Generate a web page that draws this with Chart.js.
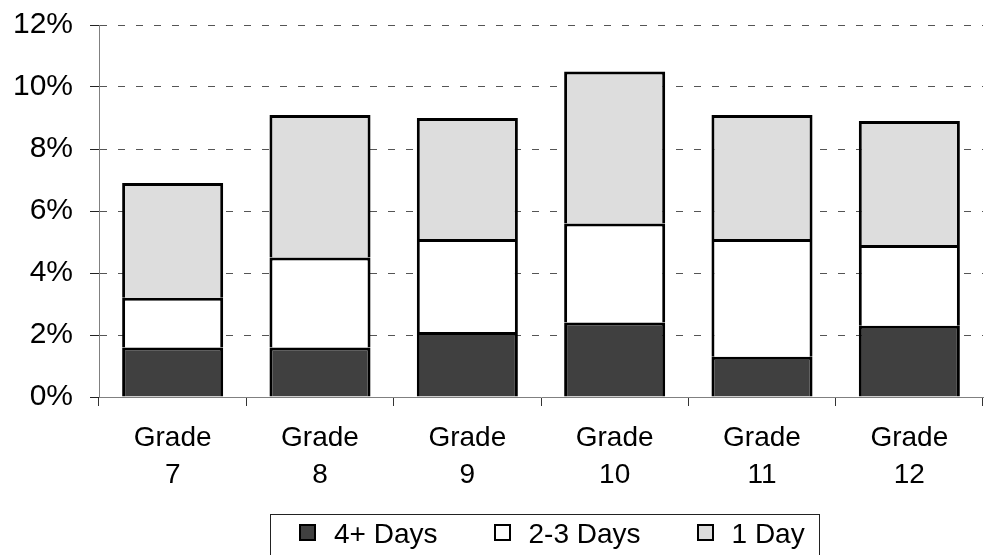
<!DOCTYPE html>
<html>
<head>
<meta charset="utf-8">
<script src="https://cdn.jsdelivr.net/npm/chart.js@4/dist/chart.umd.min.js"></script>
<style>
  html, body { margin: 0; padding: 0; background: #fff; overflow: hidden; }
  #wrap { position: relative; width: 984px; height: 555px; }
  #myChart { position: absolute; left: 0; top: 0; }
  #legend {
    position: absolute; left: 270px; top: 514px; width: 550px; height: 60px;
    border: 1px solid #222; box-sizing: border-box;
    font-family: "Liberation Sans", Arial, sans-serif; font-size: 28px; line-height: 28px;
    color: #000; padding: 5px 0 0 28px; display: flex; white-space: nowrap;
  }
  .item { display: flex; align-items: flex-start; margin-right: 56px; }
  .box { width: 13px; height: 13px; border: 2px solid #000; margin: 4px 18px 0 0; }
</style>
</head>
<body>
<div id="wrap">
  <canvas id="myChart" width="984" height="555"></canvas>
  <div id="legend"></div>
</div>
<script>
// values in percent
let grades = [["Grade", "7"], ["Grade", "8"], ["Grade", "9"], ["Grade", "10"], ["Grade", "11"], ["Grade", "12"]];
let fourPlus = [1.6, 1.6, 2.1, 2.4, 1.3, 2.3];
let twoThree = [1.6, 2.9, 3.0, 3.2, 3.8, 2.6];
let oneDay = [3.7, 4.6, 3.9, 4.9, 4.0, 4.0];
let seriesNames = ["4+ Days", "2-3 Days", "1 Day"];
let seriesColors = ["#404040", "#ffffff", "#dddddd"];
let yTicks = [0, 2, 4, 6, 8, 10, 12];

const font = "'Liberation Sans', Arial, sans-serif";

function makeSet(i, values) {
  return {
    label: seriesNames[i],
    data: values,
    backgroundColor: seriesColors[i],
    borderColor: "#000",
    borderWidth: { top: 3, left: 3, right: 3, bottom: 0 },
    borderSkipped: false,
    barPercentage: 0.686,
    categoryPercentage: 1,
  };
}

const config = {
  type: "bar",
  data: {
    labels: grades,
    datasets: [makeSet(0, fourPlus), makeSet(1, twoThree), makeSet(2, oneDay)],
  },
  options: {
    responsive: false,
    animation: false,
    layout: { padding: { top: 25, right: 1, left: 0, bottom: 0 } },
    plugins: { legend: { display: false }, tooltip: { enabled: false } },
    scales: {
      x: {
        stacked: true,
        offset: true,
        afterFit: (scale) => { scale.height = 158; },
        grid: {
          drawOnChartArea: false,
          offset: true,
          tickLength: 9,
          tickColor: "#333",
        },
        border: { color: "#808080", width: 1 },
        ticks: {
          color: "#000",
          padding: 14,
          font: { family: font, size: 28, lineHeight: 1.32 },
          maxRotation: 0,
        },
      },
      y: {
        stacked: true,
        min: 0,
        max: 12,
        afterFit: (scale) => {
          scale.width = 99;
          scale.paddingTop = 0;
          scale.paddingBottom = 0;
        },
        afterBuildTicks: (scale) => { scale.ticks = yTicks.map((v) => ({ value: v })); },
        grid: {
          color: "#555",
          lineWidth: 1,
          tickLength: 9,
          tickColor: "#222",
          tickBorderDash: [],
        },
        border: { color: "#808080", width: 1, dash: [7, 11] },
        ticks: {
          color: "#000",
          padding: 17,
          font: { family: font, size: 30 },
          callback: (v) => v + "%",
        },
      },
    },
  },
};

const myChart = new Chart(document.getElementById("myChart"), config);

// legend with a box around it, same look as the original
let legendEl = document.getElementById("legend");
for (let i = 0; i < seriesNames.length; i++) {
  let item = document.createElement("div");
  item.className = "item";
  let box = document.createElement("span");
  box.className = "box";
  box.style.background = seriesColors[i];
  let txt = document.createElement("span");
  txt.innerHTML = seriesNames[i];
  item.append(box, txt);
  legendEl.append(item);
}
</script>
</body>
</html>
